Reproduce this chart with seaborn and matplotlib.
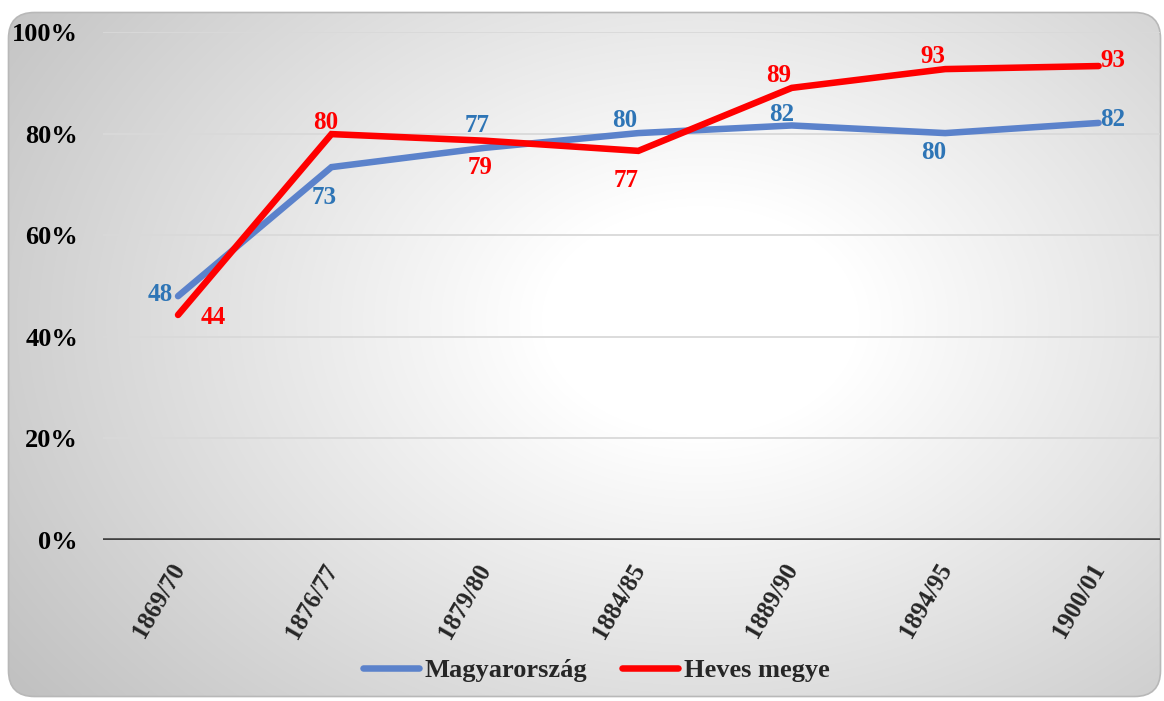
import numpy as np
import pandas as pd
import matplotlib
matplotlib.use("Agg")
import matplotlib.pyplot as plt
import matplotlib.transforms as mtransforms
import seaborn as sns
from matplotlib.patches import FancyBboxPatch

categories = ["1869/70", "1876/77", "1879/80", "1884/85", "1889/90", "1894/95", "1900/01"]
magyarorszag = [48.0, 73.4, 77.2, 80.1, 81.6, 80.1, 82.1]
heves = [44.3, 79.9, 78.6, 76.6, 89.0, 92.7, 93.3]
series_names = ["Magyarország", "Heves megye"]
yticks = [0, 20, 40, 60, 80, 100]

sns.set_theme(style="white")
plt.rcParams['font.family'] = ['Liberation Serif', 'DejaVu Serif']
plt.rcParams['font.weight'] = 'bold'

W, H = 1164, 701
fig = plt.figure(figsize=(W / 100, H / 100), dpi=100)

# background with radial gradient inside rounded frame
bg = fig.add_axes([0, 0, 1, 1])
bg.set_xlim(0, W)
bg.set_ylim(H, 0)
bg.axis("off")
yy, xx = np.mgrid[0:H, 0:W]
cx, cy = 700, 320
r = np.sqrt(((xx - cx) / 720.0) ** 2 + ((yy - cy) / 520.0) ** 2)
val = np.clip(np.where(r < 0.22, 1.0, 1.0 - 0.24 * np.clip((r - 0.22) / 0.95, 0, 1)), 0, 1)
img = np.dstack([val, val, val])
im = bg.imshow(img, extent=(0, W, H, 0), interpolation="bilinear", zorder=0)
frame = FancyBboxPatch((8.5, 12.5), 1152, 684, boxstyle="round,pad=0,rounding_size=26",
                       facecolor="none", edgecolor="#b8b8b8", linewidth=1.2, zorder=2)
bg.add_patch(frame)
im.set_clip_path(frame)

df = pd.DataFrame({
    "cat": categories * 2,
    "val": magyarorszag + heves,
    "series": [series_names[0]] * len(categories) + [series_names[1]] * len(categories),
})

ax = fig.add_axes([103 / W, 161 / H, (1160 - 103) / W, 508 / H])
ax.patch.set_alpha(0)
palette = {series_names[0]: "#5B82CB", series_names[1]: "#FF0000"}
sns.lineplot(data=df, x="cat", y="val", hue="series", palette=palette, ax=ax,
             linewidth=4.7, sort=False, legend=False,
             solid_capstyle="round", solid_joinstyle="miter")
for ln in ax.lines:
    ln.set_zorder(5)

ax.set_ylim(0, 100)
ax.set_xlim(-0.489, 6.40)
ax.set_yticks(yticks)
ax.set_yticklabels([f"{v}%" for v in yticks], fontsize=19, fontweight="bold", color="black")
ax.set_xticks(range(len(categories)))
ax.set_xticklabels(categories, fontsize=18, fontweight="bold", rotation=60,
                   ha="right", va="top", rotation_mode="anchor")
ax.tick_params(axis="both", length=0)
ax.tick_params(axis="y", pad=18)
ax.tick_params(axis="x", pad=14)
shift = mtransforms.ScaledTranslation(-9 / 100, 0, fig.dpi_scale_trans)
for lbl in ax.get_xticklabels():
    lbl.set_transform(lbl.get_transform() + shift)
ax.set_xlabel("")
ax.set_ylabel("")
for s in ax.spines.values():
    s.set_visible(False)
for v in yticks[1:]:
    ax.axhline(v, color="#d9d9d9", linewidth=1.3, zorder=1)
ax.axhline(0, color="#404040", linewidth=2.6, zorder=2)

# data label centre offsets in pixels (dx right, dy down)
blue_off = [(-18, -4), (-7, 28), (-8, -25), (-14, -15), (-10, -13), (-12, 17), (14, -6)]
red_off = [(35, 0), (-6, -14), (-5, 24), (-12, 27), (-13, -15), (-12, -15), (14, -8)]
for vals, offs, col in ((magyarorszag, blue_off, "#2E75B6"), (heves, red_off, "#FF0000")):
    for i, v in enumerate(vals):
        dx, dy = offs[i]
        ax.annotate(f"{round(v):d}", (i, v), xytext=(dx * 0.72, -dy * 0.72),
                    textcoords="offset points", ha="center", va="center_baseline",
                    fontsize=18, fontweight="bold", color=col, zorder=6)

handles = [plt.Line2D([], [], color=palette[n], linewidth=4.7, solid_capstyle="round") for n in series_names]
fig.legend(handles, series_names, loc="center", bbox_to_anchor=(596 / W, 1 - 670 / H), ncol=2,
           frameon=False, handlelength=2.15, handletextpad=0.2, columnspacing=1.3,
           prop={"weight": "bold", "size": 19})

fig.savefig("out.png", dpi=100)
